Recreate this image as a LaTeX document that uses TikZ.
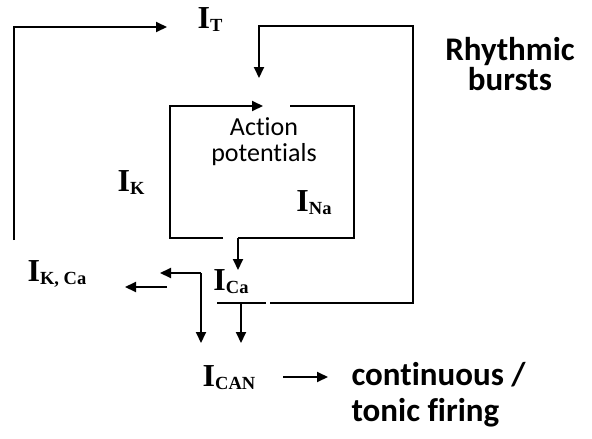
\documentclass[tikz,border=0pt]{standalone}
\usepackage{fontspec}
\setmainfont{Liberation Serif}
\newfontfamily\calfont[Ligatures={NoCommon}]{Carlito}
\usepackage{tikz}
\usetikzlibrary{arrows.meta}

\newcommand{\curr}[1]{\fontsize{32}{32}\selectfont\bfseries I\raisebox{-3pt}{\fontsize{18.5}{18.5}\selectfont #1}}
\tikzset{wire/.style={line width=2pt},
  arr/.style={wire,-{Triangle[length=11pt,width=10pt]}},
  txt/.style={font=\calfont\fontsize{26}{26}\selectfont,align=center},
  bigtxt/.style={font=\calfont\bfseries\fontsize{33}{26}\selectfont}}

\begin{document}
\begin{tikzpicture}[x=1pt,y=-1pt]
\useasboundingbox (0,0) rectangle (592,439);
% currents
\node at (210,20) (IT) {\curr{T}};
\node at (131,183) (IK) {\curr{K}};
\node at (314,203) (INa) {\curr{Na}};
\node at (231,282) (ICa) {\curr{Ca}};
\node at (57,274) (IKCa) {\curr{K, Ca}};
\node at (229,378) (ICAN) {\curr{CAN}};
% texts
\node[txt] at (264,142) (AP) {Action\\potentials};
\node[bigtxt,align=center] at (510,64) (RB) {Rhythmic\\bursts};
\node[bigtxt,align=left,anchor=west] at (348,395) (TF) {continuous /\\[10pt]tonic firing};
% outer loop (I_T)
\coordinate (o1) at (14,240);
\coordinate (o2) at (14,27);
\coordinate (o3) at (167,27);
\draw[arr] (o1) -- (o2) -- (o3);
\coordinate (r1) at (217,303);
\coordinate (r2) at (266,303);
\coordinate (r3) at (270,303);
\coordinate (r4) at (413,303);
\coordinate (r5) at (413,26);
\coordinate (r6) at (259,26);
\coordinate (r7) at (259,78);
\draw[wire] (r1) -- (r2);
\draw[arr] (r3) -- (r4) -- (r5) -- (r6) -- (r7);
% inner loop (action potentials)
\coordinate (b1) at (223,238);
\coordinate (b2) at (170,238);
\coordinate (b3) at (170,106);
\coordinate (b4) at (263,106);
\coordinate (b5) at (290,106);
\coordinate (b6) at (354,106);
\coordinate (b7) at (354,238);
\coordinate (b8) at (238,238);
\coordinate (b9) at (238,270);
\draw[arr] (b1) -- (b2) -- (b3) -- (b4);
\draw[wire] (b5) -- (b6) -- (b7) -- (b8);
\draw[arr] (b8) -- (b9);
% calcium outputs
\coordinate (c1) at (201,343);
\coordinate (c2) at (201,273);
\coordinate (c3) at (160,273);
\coordinate (c4) at (167,287);
\coordinate (c5) at (125,287);
\coordinate (c6) at (241,303);
\coordinate (c7) at (241,343);
\draw[arr] (c2) -- (c1);
\draw[arr] (c2) -- (c3);
\draw[arr] (c4) -- (c5);
\draw[arr] (c6) -- (c7);
\coordinate (t1) at (283,377);
\coordinate (t2) at (328,377);
\draw[arr] (t1) -- (t2);
\end{tikzpicture}
\end{document}
